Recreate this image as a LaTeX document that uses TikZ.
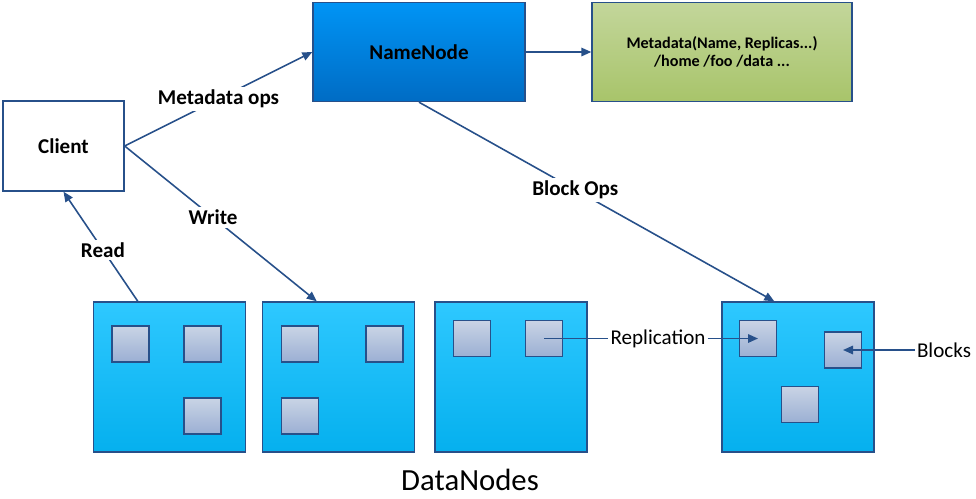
\documentclass[tikz,border=0pt]{standalone}
\usepackage{fontspec}
\setmainfont{Carlito}
\usetikzlibrary{arrows.meta}
\definecolor{linecol}{HTML}{27508A}
\definecolor{dntop}{HTML}{2EC8FF}
\definecolor{dnbot}{HTML}{05B0EE}
\definecolor{blktop}{HTML}{C9D4E5}
\definecolor{blkbot}{HTML}{9BAFD3}
\definecolor{nntop}{HTML}{0094F5}
\definecolor{nnbot}{HTML}{006CC4}
\definecolor{mdtop}{HTML}{C3D69B}
\definecolor{mdbot}{HTML}{A8C46A}
\tikzset{
  box/.style={draw=linecol,line width=0.8pt,inner sep=0pt},
  datanode/.style={box,top color=dntop,bottom color=dnbot,minimum width=3.04cm,minimum height=3cm},
  blk/.style={box,top color=blktop,bottom color=blkbot,minimum width=0.74cm,minimum height=0.72cm},
  conn/.style={draw=linecol,line width=0.9pt},
  tip/.style={conn,-{Triangle[length=2mm,width=1.7mm]}},
  lbl/.style={fill=white,inner sep=1.5pt,font=\fontsize{12}{14}\selectfont\bfseries}
}
\begin{document}
\begin{tikzpicture}[x=0.02cm,y=-0.02cm]
\useasboundingbox (0,0) rectangle (976,498);
% top row
\node[box,fill=white,minimum width=2.42cm,minimum height=1.8cm,font=\fontsize{12}{14}\selectfont\bfseries] (client) at (63.5,146) {Client};
\node[box,top color=nntop,bottom color=nnbot,minimum width=4.24cm,minimum height=1.98cm,font=\fontsize{12}{14}\selectfont\bfseries] (nn) at (419,52) {NameNode};
\node[box,top color=mdtop,bottom color=mdbot,minimum width=5.2cm,minimum height=1.98cm,align=center,font=\fontsize{9.2}{10.2}\selectfont\bfseries] (meta) at (722,52) {Metadata(Name, Replicas...)\\/home /foo /data ...};
% datanodes
\node[datanode] (dn1) at (169.5,377) {};
\node[datanode] (dn2) at (338.5,377) {};
\node[datanode] (dn3) at (511,377) {};
\node[datanode] (dn4) at (798,377) {};
% blocks
\node[blk] (b11) at (130.5,344) {};
\node[blk] (b12) at (202.5,344) {};
\node[blk] (b13) at (202.5,416) {};
\node[blk] (b21) at (300,344) {};
\node[blk] (b22) at (384.5,344) {};
\node[blk] (b23) at (300,416) {};
\node[blk] (b31) at (472,338.5) {};
\node[blk] (b32) at (544,338.5) {};
\node[blk] (b41) at (758,338.5) {};
\node[blk] (b42) at (843,350) {};
\node[blk] (b43) at (800,404.5) {};
% labels
\node[font=\fontsize{12}{14}\selectfont,inner sep=1pt] (repl) at (658,338.5) {Replication};
\node[font=\fontsize{12}{14}\selectfont,inner sep=1pt] (blocks) at (944,350) {Blocks};
\node[font=\fontsize{17.5}{20}\selectfont] (dnlbl) at (470,480) {DataNodes};
% connectors
\draw[tip] (client.east) -- node[lbl,pos=0.5] {Metadata ops} (nn.west);
\draw[tip] (client.east) -- node[lbl,pos=0.46] {Write} ([xshift=1.1cm]dn2.north west);
\draw[tip] ([xshift=0.9cm]dn1.north west) -- node[lbl,pos=0.47] {Read} (client.south);
\draw[tip] (nn.south) -- node[lbl,pos=0.44] {Block Ops} ([xshift=1.06cm]dn4.north west);
\draw[tip] (nn.east) -- (meta.west);
\draw[conn] (b32.center) -- (repl.west);
\draw[tip] (repl.east) -- (b41.center);
\draw[tip] (blocks.west) -- (b42.center);
\end{tikzpicture}
\end{document}
